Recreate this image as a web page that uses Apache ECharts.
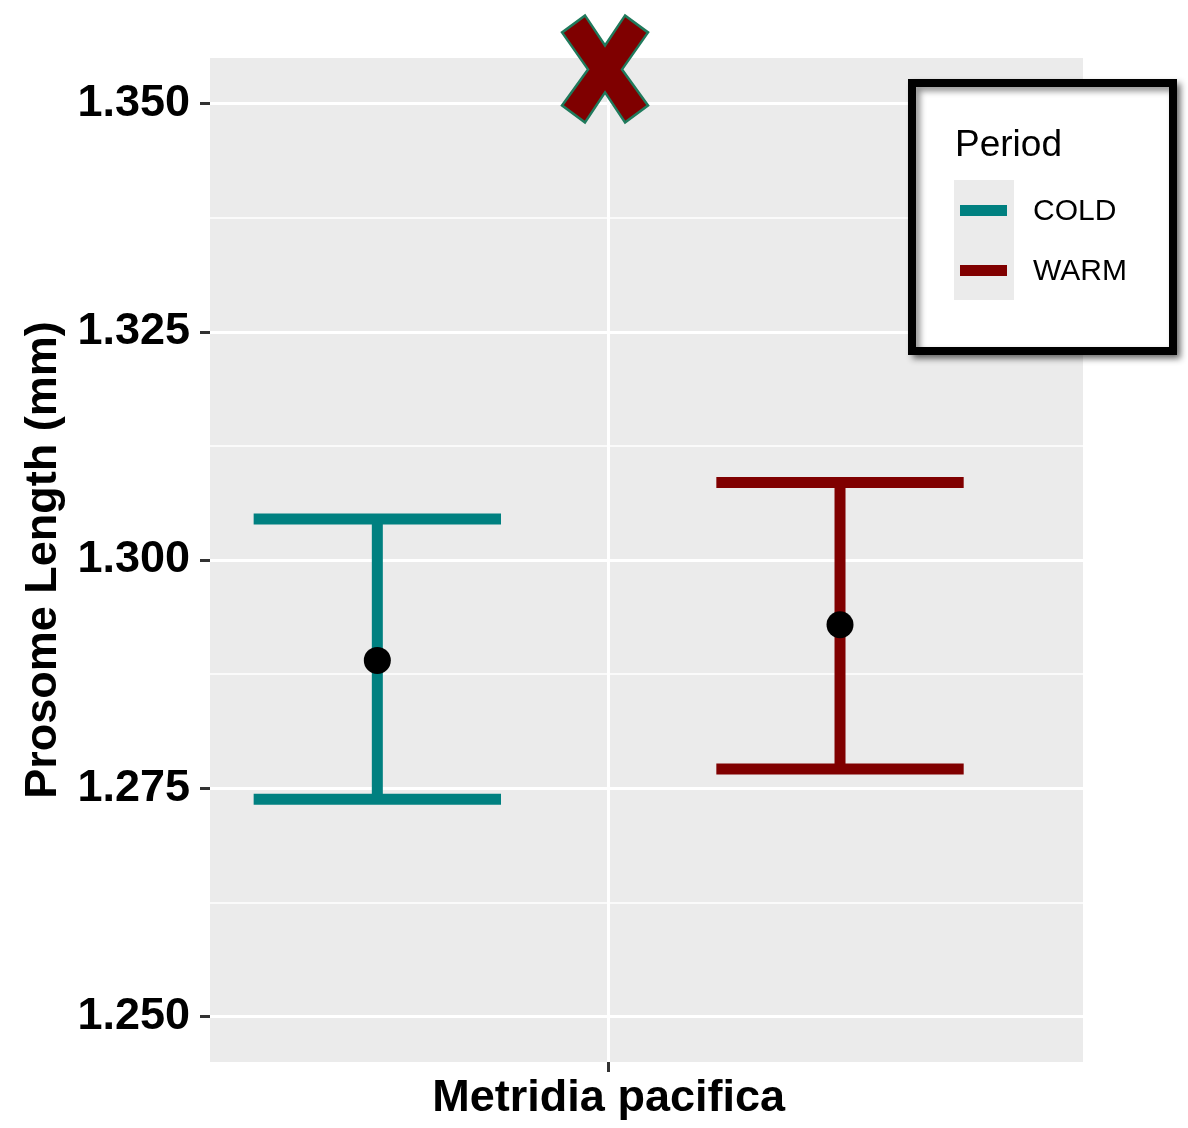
<!DOCTYPE html>
<html>
<head>
<meta charset="utf-8">
<script src="https://cdn.jsdelivr.net/npm/echarts@6/dist/echarts.min.js"></script>
<style>
html,body{margin:0;padding:0;background:#fff;}
#chart{width:1188px;height:1128px;}
</style>
</head>
<body>
<div id="chart"></div>
<script>
// ---- data ----
const categories = ['Metridia pacifica'];
const periods = ['COLD', 'WARM'];
const means = [1.2890, 1.2929];
const lowerCI = [1.2738, 1.2771];
const upperCI = [1.3045, 1.3085];
const yTicks = [1.250, 1.275, 1.300, 1.325, 1.350];
const markerValue = [1, 1.3538];   // the big "X" annotation (category 1)
const legendTitle = 'Period';
const yTitle = 'Prosome Length (mm)';

// ---- style ----
const COLORS = ['#008080', '#800000'];
const FONT = '"Liberation Sans", Arial, sans-serif';
const DODGE = 0.318;
const CAP = 0.34;

const chart = echarts.init(document.getElementById('chart'), null, {renderer: 'canvas'});

const minorTicks = yTicks.slice(0, -1).map((v, i) => (v + yTicks[i + 1]) / 2);

const series = [];
// gridlines
series.push({
  type: 'line', data: [], silent: true, z: 1,
  markLine: {
    z: 1, silent: true, animation: false, symbol: ['none', 'none'], precision: 6,
    label: {show: false}, emphasis: {disabled: true},
    data: [
      ...minorTicks.map(v => ({yAxis: v, lineStyle: {color: '#ffffff', width: 1.5, type: 'solid'}})),
      ...yTicks.map(v => ({yAxis: v, lineStyle: {color: '#ffffff', width: 3, type: 'solid'}})),
      ...categories.map((c, i) => ({xAxis: i + 1, lineStyle: {color: '#ffffff', width: 3, type: 'solid'}}))
    ]
  }
});
periods.forEach((p, i) => {
  const xPos = 1 + (i === 0 ? -DODGE : DODGE);
  series.push({
    name: p, type: 'custom', z: 3, animation: false,
    itemStyle: {color: COLORS[i]},
    data: [[xPos, lowerCI[i], upperCI[i]]],
    renderItem: function (params, api) {
      const x = api.value(0);
      const top = api.coord([x, api.value(2)]);
      const bot = api.coord([x, api.value(1)]);
      const hw = api.size([CAP, 0])[0] / 2;
      const st = {stroke: COLORS[i], lineWidth: 11, lineCap: 'butt'};
      return {
        type: 'group',
        children: [
          {type: 'line', shape: {x1: top[0], y1: top[1], x2: bot[0], y2: bot[1]}, style: st},
          {type: 'line', shape: {x1: top[0] - hw, y1: top[1], x2: top[0] + hw, y2: top[1]}, style: st},
          {type: 'line', shape: {x1: bot[0] - hw, y1: bot[1], x2: bot[0] + hw, y2: bot[1]}, style: st}
        ]
      };
    }
  });
  series.push({
    type: 'scatter', z: 4, animation: false, silent: true,
    symbol: 'circle', symbolSize: 27,
    itemStyle: {color: '#000000', opacity: 1},
    data: [[xPos, means[i]]]
  });
});
// big X annotation
series.push({
  type: 'scatter', z: 5, animation: false, silent: true,
  symbol: 'path://M0,17L23,0L43,30L63,0L86,17L60,54L86,90L63,107L43,77L23,107L0,90L26,54Z',
  symbolSize: [86, 107],
  clip: false,
  itemStyle: {color: '#7f0000', borderColor: '#1f7a5c', borderWidth: 2.5, opacity: 1},
  data: [[markerValue[0] - 0.005, markerValue[1]]]
});

// legend graphic
const LZ = 100;
const legendChildren = [
  {type: 'rect', z: LZ, shape: {x: 912, y: 83, width: 261, height: 268},
   style: {fill: '#ffffff', stroke: '#000000', lineWidth: 8,
           shadowBlur: 6, shadowOffsetX: 4, shadowOffsetY: 4, shadowColor: 'rgba(0,0,0,0.45)'}},
  {type: 'text', z: LZ + 1, style: {x: 955, y: 146, text: legendTitle, fill: '#000', font: '37px ' + FONT, textVerticalAlign: 'middle'}},
  {type: 'rect', z: LZ + 1, shape: {x: 954, y: 180, width: 60, height: 120}, style: {fill: '#EBEBEB'}}
];
periods.forEach((p, i) => {
  const cy = 210.5 + i * 60;
  legendChildren.push({type: 'rect', z: LZ + 2, shape: {x: 960, y: cy - 5.5, width: 47, height: 11}, style: {fill: COLORS[i]}});
  legendChildren.push({type: 'text', z: LZ + 2, style: {x: 1033, y: cy + 1.5, text: p, fill: '#000', font: '30px ' + FONT, textVerticalAlign: 'middle'}});
});

const option = {
  animation: false,
  backgroundColor: '#ffffff',
  grid: {left: 210, right: 105, top: 58, bottom: 66, show: true, backgroundColor: '#EBEBEB', borderWidth: 0},
  xAxis: {
    type: 'value', min: 0.452, max: 1.652,
    axisLine: {show: false},
    splitLine: {show: false},
    axisTick: {show: true, customValues: categories.map((c, i) => i + 1), length: 10, lineStyle: {color: '#333333', width: 3}},
    axisLabel: {show: true, customValues: categories.map((c, i) => i + 1), margin: 14,
      formatter: v => categories[Math.round(v) - 1] || '',
      color: '#000', fontFamily: FONT, fontWeight: 'bold', fontSize: 45}
  },
  yAxis: {
    type: 'value', min: 1.245, max: 1.355,
    name: yTitle, nameLocation: 'middle', nameGap: 144, nameRotate: 90,
    nameTextStyle: {color: '#000', fontFamily: FONT, fontWeight: 'bold', fontSize: 45},
    axisLine: {show: false},
    splitLine: {show: false},
    axisTick: {show: true, customValues: yTicks, length: 10, lineStyle: {color: '#333333', width: 3}},
    axisLabel: {show: true, customValues: yTicks, margin: 20,
      formatter: v => v.toFixed(3),
      color: '#000', fontFamily: FONT, fontWeight: 'bold', fontSize: 45}
  },
  graphic: legendChildren,
  series: series
};
chart.setOption(option);
</script>
</body>
</html>
